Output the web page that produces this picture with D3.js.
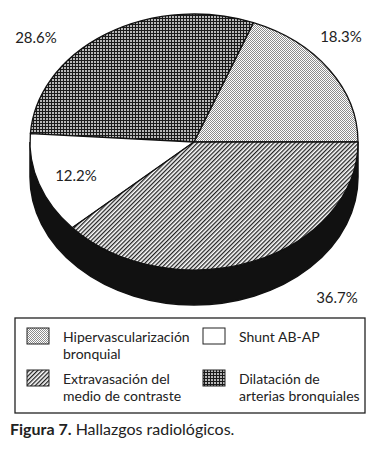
<!DOCTYPE html>
<html>
<head>
<meta charset="utf-8">
<script src="https://cdn.jsdelivr.net/npm/d3@7"></script>
<style>
  body { margin: 0; background: #fff; }
  text { font-family: Lato, "Open Sans", sans-serif; fill: #222; }
</style>
</head>
<body>
<div id="chart"></div>
<script>
// Slices in drawing order (counter-clockwise from 3 o'clock)
var categories = ["Hipervascularización bronquial", "Dilatación de arterias bronquiales", "Shunt AB-AP", "Extravasación del medio de contraste"];
var values = [18.3, 28.6, 12.2, 36.7];
var percentLabels = ["18.3%", "28.6%", "12.2%", "36.7%"];
var legendLines = [["Hipervascularización", "bronquial"], ["Dilatación de", "arterias bronquiales"], ["Shunt AB-AP"], ["Extravasación del", "medio de contraste"]];
// legend reads row by row: hiper, shunt / extravasación, dilatación
var legendOrder = [0, 2, 3, 1];
var fills = ["url(#dots)", "url(#grid)", "#fff", "url(#hatch)"];

var width = 380, height = 456;
var cx = 194, cy = 142, rx = 164, ry = 128, depth = 35;

// where each percentage sits (layout only)
var labelPos = [[341, 42], [36, 43], [76, 181], [337, 303]];

var svg = d3.select("#chart").append("svg")
    .attr("width", width)
    .attr("height", height);

// Fill patterns
var defs = svg.append("defs");

var dots = defs.append("pattern").attr("id", "dots")
    .attr("patternUnits", "userSpaceOnUse")
    .attr("width", 2).attr("height", 2);
dots.append("rect").attr("width", 2).attr("height", 2).attr("fill", "#fff");
dots.append("rect").attr("width", 1).attr("height", 1).attr("fill", "#8c8c8c");
dots.append("rect").attr("x", 1).attr("y", 1).attr("width", 1).attr("height", 1).attr("fill", "#8c8c8c");

var grid = defs.append("pattern").attr("id", "grid")
    .attr("patternUnits", "userSpaceOnUse")
    .attr("width", 3).attr("height", 3);
grid.append("rect").attr("width", 3).attr("height", 3).attr("fill", "#b8b8b8");
grid.append("rect").attr("width", 3).attr("height", 1).attr("fill", "#1a1a1a");
grid.append("rect").attr("width", 1).attr("height", 3).attr("fill", "#1a1a1a");

var hatch = defs.append("pattern").attr("id", "hatch")
    .attr("patternUnits", "userSpaceOnUse")
    .attr("width", 3).attr("height", 3)
    .attr("patternTransform", "rotate(45)");
hatch.append("rect").attr("width", 3).attr("height", 3).attr("fill", "#fff");
hatch.append("rect").attr("width", 1.3).attr("height", 3).attr("fill", "#222");

// angles from d3.pie, read as counter-clockwise from east
var pie = d3.pie().sort(null).value(function (d) { return d; });
var slices = pie(values);

function pt(a) {
    return [cx + rx * Math.cos(a), cy - ry * Math.sin(a)];
}

// Black side wall of the disc
svg.append("path")
    .attr("d", "M" + (cx - rx) + "," + cy +
        "L" + (cx - rx) + "," + (cy + depth) +
        "A" + rx + "," + ry + " 0 0 0 " + (cx + rx) + "," + (cy + depth) +
        "L" + (cx + rx) + "," + cy +
        "A" + rx + "," + ry + " 0 0 1 " + (cx - rx) + "," + cy + "Z")
    .attr("fill", "#111")
    .attr("stroke", "#111")
    .attr("stroke-width", 1.5);

// Top face
svg.selectAll("path.slice")
    .data(slices)
    .enter()
    .append("path")
    .attr("class", "slice")
    .attr("d", function (d) {
        var p0 = pt(d.startAngle), p1 = pt(d.endAngle);
        var large = (d.endAngle - d.startAngle) > Math.PI ? 1 : 0;
        return "M" + cx + "," + cy + "L" + p0[0] + "," + p0[1] +
            "A" + rx + "," + ry + " 0 " + large + " 0 " + p1[0] + "," + p1[1] + "Z";
    })
    .attr("fill", function (d, i) { return fills[i]; })
    .attr("stroke", "#111")
    .attr("stroke-width", 1.3)
    .attr("stroke-linejoin", "round");

// Percent labels
svg.selectAll("text.pct")
    .data(slices)
    .enter()
    .append("text")
    .attr("class", "pct")
    .attr("x", function (d, i) { return labelPos[i][0]; })
    .attr("y", function (d, i) { return labelPos[i][1]; })
    .attr("text-anchor", "middle")
    .style("font-size", "15px")
    .text(function (d, i) { return percentLabels[i]; });

// Legend
var legend = svg.append("g");
legend.append("rect")
    .attr("x", 15).attr("y", 318)
    .attr("width", 350).attr("height", 95)
    .attr("fill", "none")
    .attr("stroke", "#222")
    .attr("stroke-width", 1.3);

legendOrder.forEach(function (k, n) {
    var col = n % 2, row = Math.floor(n / 2);
    var x = 27 + col * 176, y = 328 + row * 42;
    legend.append("rect")
        .attr("x", x).attr("y", y)
        .attr("width", 22).attr("height", 16)
        .attr("fill", fills[k])
        .attr("stroke", "#222")
        .attr("stroke-width", 1);
    legendLines[k].forEach(function (line, j) {
        legend.append("text")
            .attr("x", x + 36)
            .attr("y", y + 14 + j * 17)
            .style("font-size", "14px")
            .text(line);
    });
});

// Caption
var caption = svg.append("text")
    .attr("x", 10).attr("y", 435)
    .style("font-size", "16px");
caption.append("tspan").style("font-weight", "bold").text("Figura 7.");
caption.append("tspan").text(" Hallazgos radiológicos.");
</script>
</body>
</html>
